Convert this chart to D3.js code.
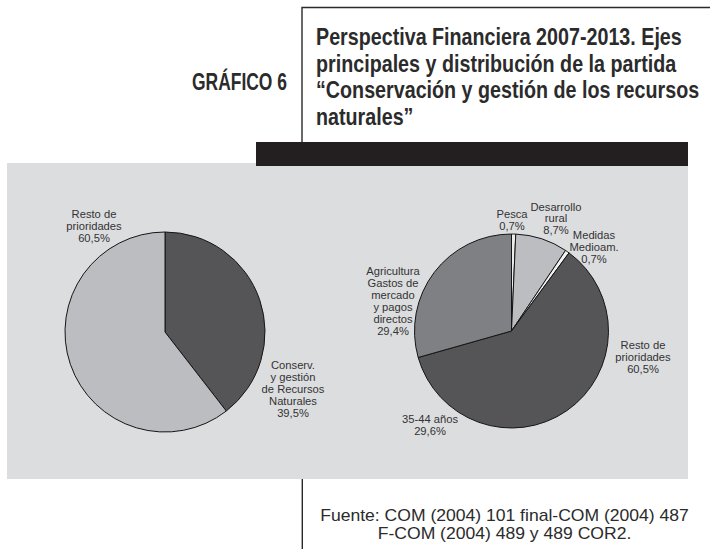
<!DOCTYPE html>
<html>
<head>
<meta charset="utf-8">
<script src="https://cdn.jsdelivr.net/npm/d3@7"></script>
<style>
  html, body { margin: 0; padding: 0; background: #ffffff; }
  svg { display: block; }
</style>
</head>
<body>
<svg id="chart" width="710" height="549"></svg>
<script>
// ---- Data -------------------------------------------------------------
const titleLines = [
  "Perspectiva Financiera 2007-2013. Ejes",
  "principales y distribución de la partida",
  "“Conservación y gestión de los recursos",
  "naturales”"
];
const figureLabel = "GRÁFICO 6";
const sourceLines = [
  "Fuente: COM (2004) 101 final-COM (2004) 487",
  "F-COM (2004) 489 y 489 COR2."
];

// Main budget axes
const leftCategories = ["Conserv. y gestión de Recursos Naturales", "Resto de prioridades"];
const leftLabelLines = [["Conserv.", "y gestión", "de Recursos", "Naturales"], ["Resto de", "prioridades"]];
const leftValues = [39.5, 60.5];

// Breakdown of "Conservación y gestión de los recursos naturales"
const rightCategories = ["Pesca", "Desarrollo rural", "Medidas Medioam.", "Resto de prioridades", "Agricultura"];
const rightLabelLines = [
  ["Pesca"],
  ["Desarrollo", "rural"],
  ["Medidas", "Medioam."],
  ["Resto de", "prioridades"],
  ["Agricultura", "Gastos de", "mercado", "y pagos", "directos"]
];
const rightValues = [0.7, 8.7, 0.7, 60.5, 29.4];

// Free-standing annotation printed on the breakdown pie
const extraLabelLines = [["35-44 años"]];
const extraLabelValues = [29.6];

// ---- Styling / layout ---------------------------------------------------
const leftColors = ["#555557", "#bcbdc0"];
const rightColors = ["#ececec", "#bcbdc0", "#f2f2f2", "#555557", "#7f8083"];

const svg = d3.select("#chart");
const es = d3.formatLocale({ decimal: ",", thousands: ".", grouping: [3], currency: ["", " €"] });
const pct = v => es.format(".1f")(v) + "%";

// Header box
svg.append("path")
  .attr("d", "M302,142 V7.5 H710")
  .attr("fill", "none").attr("stroke", "#2a2a2a").attr("stroke-width", 1.4);

function fitText(sel, width) {
  const w = sel.node().getComputedTextLength();
  return width / w;
}

const fig = svg.append("text")
  .attr("font-family", "'Liberation Sans', Arial, sans-serif")
  .attr("font-weight", "bold")
  .attr("font-size", 24)
  .attr("fill", "#2b2b2b")
  .text(figureLabel);
{
  const k = fitText(fig, 95);
  fig.attr("transform", `translate(192,90) scale(${k},1)`);
}

const titleG = svg.append("g");
const tl = titleG.selectAll("text").data(titleLines).join("text")
  .attr("font-family", "'Liberation Sans', Arial, sans-serif")
  .attr("font-weight", "bold")
  .attr("font-size", 23)
  .attr("fill", "#2b2b2b")
  .text(d => d);
{
  const k = 366 / tl.nodes()[0].getComputedTextLength();
  tl.attr("transform", (d, i) => `translate(316,${45 + i * 26.6}) scale(${k},1)`);
}

// Grey panel and black band
svg.append("rect").attr("x", 7).attr("y", 163).attr("width", 681).attr("height", 316).attr("fill", "#dcdddf");
svg.append("rect").attr("x", 256).attr("y", 142).attr("width", 432).attr("height", 24).attr("fill", "#231f20");

// ---- Pies -------------------------------------------------------------
const pie = d3.pie().sort(null).value(d => d);

function drawPie(cx, cy, r, values, colors) {
  const arc = d3.arc().innerRadius(0).outerRadius(r);
  const g = svg.append("g").attr("transform", `translate(${cx},${cy})`);
  g.selectAll("path").data(pie(values)).join("path")
    .attr("d", arc)
    .attr("fill", (d, i) => colors[i])
    .attr("stroke", "#151515")
    .attr("stroke-width", 1)
    .attr("stroke-linejoin", "round");
  return g;
}

function drawLabel(x, y, lines) {
  const t = svg.append("text")
    .attr("font-family", "'Liberation Sans', Arial, sans-serif")
    .attr("font-size", 11.2)
    .attr("fill", "#333333")
    .attr("text-anchor", "middle");
  lines.forEach((s, i) => t.append("tspan").attr("x", x).attr("y", y + i * 11.9).text(s));
}

drawPie(165, 332, 100, leftValues, leftColors);
drawPie(511.5, 331, 97, rightValues, rightColors);

// label anchors: [centre x, first baseline]
const leftLabelPos = [[293, 369], [94, 218]];
leftLabelLines.forEach((lines, i) =>
  drawLabel(leftLabelPos[i][0], leftLabelPos[i][1], lines.concat(pct(leftValues[i]))));

const rightLabelPos = [[512, 218], [556, 210.5], [594, 239], [643, 349], [393, 275]];
rightLabelLines.forEach((lines, i) =>
  drawLabel(rightLabelPos[i][0], rightLabelPos[i][1], lines.concat(pct(rightValues[i]))));

const extraPos = [[430, 423]];
extraLabelLines.forEach((lines, i) =>
  drawLabel(extraPos[i][0], extraPos[i][1], lines.concat(pct(extraLabelValues[i]))));

// ---- Source note ----------------------------------------------------------
svg.append("line").attr("x1", 302.3).attr("x2", 302.3).attr("y1", 479).attr("y2", 549)
  .attr("stroke", "#2a2a2a").attr("stroke-width", 1.4);

const src = svg.selectAll("text.src").data(sourceLines).join("text")
  .attr("class", "src")
  .attr("font-family", "'Liberation Sans', Arial, sans-serif")
  .attr("font-size", 16)
  .attr("fill", "#2b2b2b")
  .attr("text-anchor", "middle")
  .text(d => d);
{
  const k = 369 / src.nodes()[0].getComputedTextLength();
  src.attr("transform", (d, i) => `translate(504.5,${521 + i * 18}) scale(${k},1)`);
}
</script>
</body>
</html>
